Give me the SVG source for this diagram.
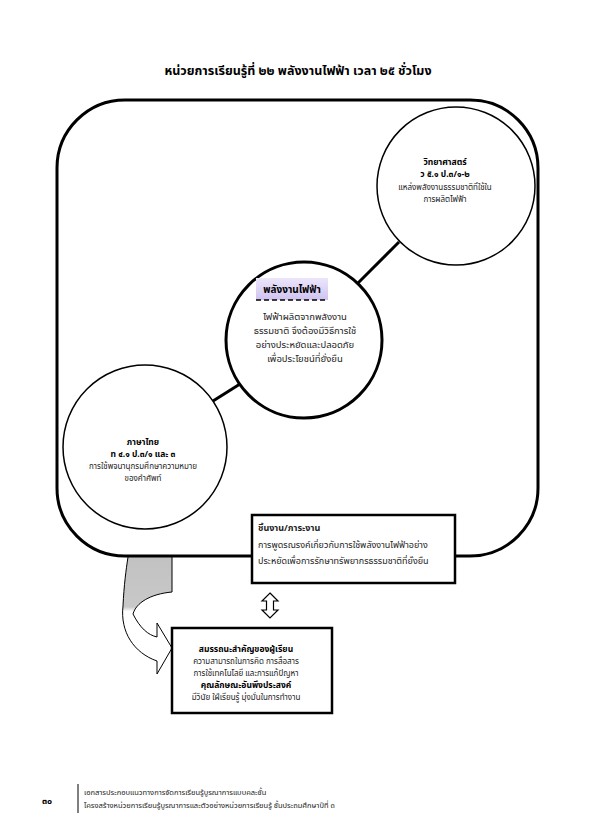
<svg xmlns="http://www.w3.org/2000/svg" width="595" height="836" viewBox="0 0 595 836">
<style>
text{font-family:"Noto Sans Thai","Noto Sans","DejaVu Sans",sans-serif;fill:#000}
.t{font-size:12.5px;font-weight:bold}
.h{font-size:8.5px;font-weight:bold;text-anchor:middle}
.s{font-size:8px;text-anchor:middle;fill:#222}
.m{font-size:9.5px;text-anchor:middle;fill:#222}
.b{font-size:9px;fill:#222}
.f{font-size:7.5px;fill:#222}
.thin{fill:#fff;stroke:#000;stroke-width:1.5}
.thick{fill:#fff;stroke:#000;stroke-width:3}
.ln{stroke:#000;stroke-width:3;fill:none}
</style>
<defs>
<linearGradient id="lab" x1="0" y1="0" x2="0" y2="1">
<stop offset="0" stop-color="#ece6fb"/>
<stop offset="1" stop-color="#cfc3ef"/>
</linearGradient>
<linearGradient id="arr" gradientUnits="userSpaceOnUse" x1="0" y1="557" x2="0" y2="673">
<stop offset="0" stop-color="#c2c2c2"/>
<stop offset="0.43" stop-color="#c8c8c8"/>
<stop offset="0.47" stop-color="#fff"/>
</linearGradient>
</defs>
<rect width="595" height="836" fill="#fff"/>
<text class="t" x="298" y="75" text-anchor="middle">หน่วยการเรียนรู้ที่ ๒๒ พลังงานไฟฟ้า เวลา ๒๕ ชั่วโมง</text>

<g id="frame">
<rect x="57" y="100" width="481" height="456" rx="68" ry="68" fill="none" stroke="#000" stroke-width="3"/>
</g>

<g id="connectors">
<line class="ln" x1="357" y1="284" x2="399" y2="242"/>
<line class="ln" x1="213" y1="401" x2="240" y2="384"/>
<path d="M128,557 L172,557 L172,592 C150,594 136,603 133,614 C140,628 148,635 157,637 L157,623 L172,648 L157,674 L157,661 C134,653 120,632 123,606 C124,585 126,570 128,557 Z" fill="url(#arr)" stroke="#000" stroke-width="1"/>
<path d="M270,593 L278,601 L273.5,601 L273.5,610 L278,610 L270,618 L262,610 L266.5,610 L266.5,601 L262,601 Z" fill="#fff" stroke="#000" stroke-width="1.2"/>
</g>

<g id="science">
<circle class="thin" cx="456" cy="186" r="79"/>
<text class="h" x="445" y="165">วิทยาศาสตร์</text>
<text class="h" x="445" y="177">ว ๕.๑ ป.๓/๑-๒</text>
<text class="s" x="445" y="190">แหล่งพลังงานธรรมชาติที่ใช้ใน</text>
<text class="s" x="445" y="202">การผลิตไฟฟ้า</text>
</g>

<g id="center">
<circle class="thick" cx="304" cy="340" r="78"/>
<rect x="256" y="278" width="72" height="22" fill="url(#lab)"/>
<line x1="256" y1="300" x2="328" y2="300" stroke="#000" stroke-width="1.5" stroke-dasharray="5,3"/>
<text x="292" y="293" text-anchor="middle" style="font-size:10px;font-weight:bold">พลังงานไฟฟ้า</text>
<text class="m" x="305" y="320">ไฟฟ้าผลิตจากพลังงาน</text>
<text class="m" x="305" y="334">ธรรมชาติ จึงต้องมีวิธีการใช้</text>
<text class="m" x="305" y="348">อย่างประหยัดและปลอดภัย</text>
<text class="m" x="305" y="362">เพื่อประโยชน์ที่ยั่งยืน</text>
</g>

<g id="thai">
<circle class="thin" cx="145" cy="447" r="82"/>
<text class="h" x="143" y="445">ภาษาไทย</text>
<text class="h" x="143" y="457">ท ๔.๑ ป.๓/๑ และ ๓</text>
<text class="s" x="143" y="469">การใช้พจนานุกรมศึกษาความหมาย</text>
<text class="s" x="143" y="481">ของคำศัพท์</text>
</g>

<g id="task">
<rect x="252" y="515" width="203" height="68" fill="#fff" stroke="#000" stroke-width="2.5"/>
<text class="b" x="258" y="531" style="font-weight:bold">ชิ้นงาน/ภาระงาน</text>
<text class="b" x="258" y="548">การพูดรณรงค์เกี่ยวกับการใช้พลังงานไฟฟ้าอย่าง</text>
<text class="b" x="258" y="564">ประหยัดเพื่อการรักษาทรัพยากรธรรมชาติที่ยั่งยืน</text>
</g>

<g id="competency">
<rect x="172" y="628" width="160" height="85" fill="#fff" stroke="#000" stroke-width="2.5"/>
<text class="h" x="246" y="652">สมรรถนะสำคัญของผู้เรียน</text>
<text class="s" x="246" y="664">ความสามารถในการคิด การสื่อสาร</text>
<text class="s" x="246" y="676">การใช้เทคโนโลยี และการแก้ปัญหา</text>
<text class="h" x="246" y="688">คุณลักษณะอันพึงประสงค์</text>
<text class="s" x="246" y="700">มีวินัย ใฝ่เรียนรู้ มุ่งมั่นในการทำงาน</text>
</g>

<g id="footer">
<text x="42" y="804" style="font-size:9px;font-weight:bold">๓๐</text>
<line x1="78" y1="784" x2="78" y2="813" stroke="#000" stroke-width="1"/>
<text class="f" x="84" y="795">เอกสารประกอบแนวทางการจัดการเรียนรู้บูรณาการแบบคละชั้น</text>
<text class="f" x="84" y="808">โครงสร้างหน่วยการเรียนรู้บูรณาการและตัวอย่างหน่วยการเรียนรู้ ชั้นประถมศึกษาปีที่ ๓</text>
</g>
</svg>
